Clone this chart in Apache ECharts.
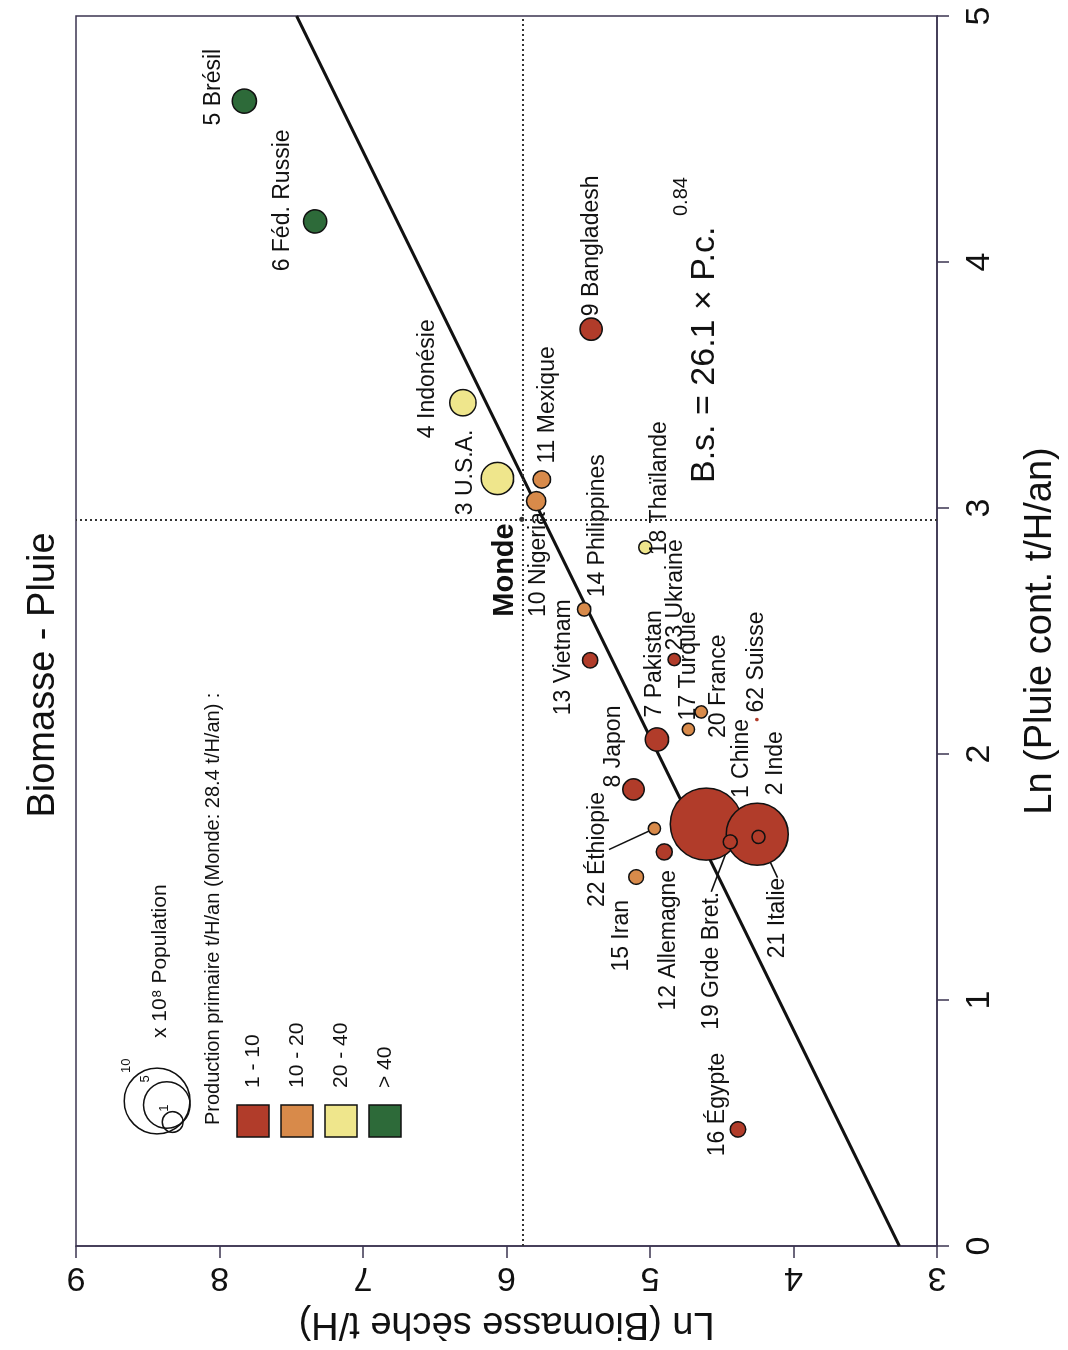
<!DOCTYPE html>
<html>
<head>
<meta charset="utf-8">
<script src="https://cdn.jsdelivr.net/npm/echarts@6/dist/echarts.min.js"></script>
<style>
  html, body { margin: 0; padding: 0; background: #fff; overflow: hidden; width: 1068px; height: 1350px; }
  /* The chart is laid out landscape and turned a quarter turn so it reads up the page */
  #chart { position: absolute; left: 0; top: 0; width: 1350px; height: 1068px;
           transform-origin: 0 0; transform: translate(0, 1350px) rotate(-90deg); }
</style>
</head>
<body>
<div id="chart"></div>
<script>
// ---- Data: ln of continental rainfall vs ln of dry biomass per inhabitant ----
const countries = ['1 Chine', '2 Inde', '3 U.S.A.', '4 Indonésie', '5 Brésil', '6 Féd. Russie',
  '7 Pakistan', '9 Bangladesh', '8 Japon', '10 Nigeria', '11 Mexique', '12 Allemagne',
  '13 Vietnam', '16 Égypte', '15 Iran', '14 Philippines', '19 Grde Bret.', '18 Thaïlande',
  '21 Italie', '22 Éthiopie', '20 France', '17 Turquie', '23 Ukraine', '62 Suisse'];
const lnPluie = [1.715, 1.674, 3.120, 3.428, 4.654, 4.165,
  2.059, 3.727, 1.856, 3.028, 3.116, 1.602,
  2.381, 0.474, 1.500, 2.588, 1.643, 2.840,
  1.663, 1.697, 2.171, 2.100, 2.384, 2.140];
const lnBiomasse = [4.608, 4.253, 6.063, 6.304, 7.827, 7.334,
  4.952, 5.410, 5.115, 5.793, 5.754, 4.901,
  5.417, 4.387, 5.096, 5.459, 4.441, 5.033,
  4.244, 4.969, 4.643, 4.732, 4.831, 4.255];
// population, in units of 10^8 inhabitants
const population = [12.0, 8.9, 2.4, 1.6, 1.35, 1.25,
  1.25, 1.15, 1.05, 0.85, 0.7, 0.6,
  0.55, 0.55, 0.5, 0.42, 0.45, 0.4,
  0.4, 0.35, 0.35, 0.35, 0.35, 0.03];
// primary production class: 0 = 1-10, 1 = 10-20, 2 = 20-40, 3 = >40 t/H/an
const productionClass = [0, 0, 2, 2, 3, 3,
  0, 0, 0, 1, 1, 0,
  0, 0, 1, 1, 0, 2,
  0, 1, 1, 1, 0, 0];

const mondeName = 'Monde';
const mondePoint = [2.954, 5.894];

// fitted relation B.s. = 26.1 x P.c.^0.84  (straight line in ln-ln space)
const fitCoef = 26.1;
const fitExp = 0.84;

const xTicks = [0, 5, 1];   // min, max, step of ln(rain)
const yTicks = [3, 9, 1];   // min, max, step of ln(biomass)
const classLabels = ['1 - 10', '10 - 20', '20 - 40', '> 40'];
const sizeLegend = [10, 5, 1];

// ---- Styling ----
const FONT = '"Liberation Sans", Arial, Helvetica, sans-serif';
const INK = '#111111';
const AXIS = '#3b3550';
const classColors = ['#b13c2a', '#d88a4a', '#efe68c', '#2d6a39'];
const SIZE_K = 20.8;          // bubble diameter (px) per sqrt(10^8 inhabitants)

// label placement around each bubble (px, landscape frame)
const labelPlacement = {
  '5 Brésil':       { align: 'center', dx: 14,  dy: -31 },
  '6 Féd. Russie':  { align: 'center', dx: 21,  dy: -32 },
  '9 Bangladesh':   { align: 'left',   dx: 13,  dy: 0 },
  '4 Indonésie':    { align: 'center', dx: 24,  dy: -35 },
  '3 U.S.A.':       { align: 'center', dx: 6,   dy: -32 },
  '11 Mexique':     { align: 'left',   dx: 16,  dy: 6 },
  '10 Nigeria':     { align: 'right',  dx: -11, dy: 2 },
  '18 Thaïlande':   { align: 'left',   dx: -8,  dy: 14 },
  '14 Philippines': { align: 'left',   dx: 12,  dy: 14 },
  '13 Vietnam':     { align: 'center', dx: 3,   dy: -27 },
  '7 Pakistan':     { align: 'left',   dx: 22,  dy: -2 },
  '23 Ukraine':     { align: 'left',   dx: 9,   dy: 1 },
  '17 Turquie':     { align: 'left',   dx: 9,   dy: 0 },
  '20 France':      { align: 'left',   dx: -26, dy: 17 },
  '62 Suisse':      { align: 'left',   dx: 7,   dy: 0 },
  '1 Chine':        { align: 'left',   dx: 26,  dy: 35 },
  '2 Inde':         { align: 'left',   dx: 39,  dy: 18 },
  '8 Japon':        { align: 'left',   dx: 2,   dy: -20 },
  '12 Allemagne':   { align: 'right',  dx: -18, dy: 4 },
  '15 Iran':        { align: 'right',  dx: -23, dy: -15 },
  '16 Égypte':      { align: 'center', dx: 25,  dy: -20 },
  '22 Éthiopie':    { align: 'center', dx: -21, dy: -57, leader: true },
  '19 Grde Bret.':  { align: 'center', dx: -119, dy: -19, leader: true },
  '21 Italie':      { align: 'center', dx: -81, dy: 19, leader: true }
};

const scatterData = countries.map((name, i) => {
  const d = SIZE_K * Math.sqrt(population[i]);
  const p = labelPlacement[name];
  const tiny = d < 6;
  return {
    name: name,
    value: [lnPluie[i], lnBiomasse[i]],
    symbolSize: d,
    itemStyle: {
      color: classColors[productionClass[i]],
      opacity: 1,
      borderColor: tiny ? 'rgba(0,0,0,0)' : '#111',
      borderWidth: tiny ? 0 : 1.5
    },
    label: { show: true, position: 'inside', align: p.align, verticalAlign: 'middle' },
    labelLine: { show: !!p.leader, lineStyle: { color: '#111', width: 1.5 } }
  };
});

const fitLine = [xTicks[0], xTicks[1]].map(x => [x, Math.log(fitCoef) + fitExp * x]);

// size-key circles: centre shift of each ring from the shared anchor (px, landscape frame)
const legendAnchor = { u: 249, v: 190 };
const ringShift = [[0, 0], [-4, 0], [-21, -7]];
const legendGraphics = [];
function txt(x, y, text, size, align, extra) {
  return Object.assign({ type: 'text', x: x, y: y,
    style: Object.assign({ text: text, fontSize: size, fontFamily: FONT, fill: INK,
      align: align, verticalAlign: 'middle', textAlign: align, textVerticalAlign: 'middle' }, extra || {}) });
}
sizeLegend.forEach((s, k) => {
  const r = SIZE_K * Math.sqrt(s) / 2;
  const cx = legendAnchor.u + ringShift[k][0];
  const cy = legendAnchor.v - r + ringShift[k][1];
  legendGraphics.push({ type: 'circle', shape: { cx: cx, cy: cy, r: r },
    style: { fill: 'none', stroke: '#111', lineWidth: 1.5 } });
  legendGraphics.push(txt(cx + r * 0.95 + 4, cy - r + 2, String(s), 13, 'center'));
});
legendGraphics.push(txt(312, 160, 'x 10⁸ Population', 21, 'left'));
legendGraphics.push(txt(225, 213, 'Production primaire t/H/an (Monde: 28.4 t/H/an) :', 20, 'left'));
classLabels.forEach((lab, k) => {
  const vc = 253 + k * 44;
  legendGraphics.push({ type: 'rect', shape: { x: 213, y: vc - 16, width: 32, height: 32 },
    style: { fill: classColors[k], stroke: '#111', lineWidth: 1.5 } });
  legendGraphics.push(txt(262, vc, lab, 21, 'left'));
});
// fitted equation
legendGraphics.push(txt(867, 705, 'B.s. = ' + fitCoef + ' × P.c.', 34, 'left'));
legendGraphics.push(txt(1134, 681, String(fitExp), 20, 'left'));

const chart = echarts.init(document.getElementById('chart'), null, { renderer: 'canvas' });

chart.setOption({
  backgroundColor: '#ffffff',
  animation: false,
  title: {
    text: 'Biomasse - Pluie', left: 'center', top: 20,
    textStyle: { fontSize: 38, fontWeight: 'normal', fontFamily: FONT, color: INK }
  },
  grid: { left: 104, right: 16, top: 76, bottom: 131, show: true,
          borderColor: AXIS, borderWidth: 1.5, backgroundColor: 'rgba(0,0,0,0)' },
  xAxis: {
    type: 'value', min: xTicks[0], max: xTicks[1], interval: xTicks[2],
    name: 'Ln (Pluie cont. t/H/an)', nameLocation: 'middle', nameGap: 85,
    nameTextStyle: { fontSize: 38, fontFamily: FONT, color: INK },
    axisLine: { show: true, onZero: false, lineStyle: { color: AXIS, width: 1.5 } },
    axisTick: { show: true, inside: false, length: 12, lineStyle: { color: AXIS, width: 1.5 } },
    axisLabel: { fontSize: 34, fontFamily: FONT, color: INK, margin: 26 },
    splitLine: { show: false }
  },
  yAxis: {
    type: 'value', min: yTicks[0], max: yTicks[1], interval: yTicks[2],
    name: 'Ln (Biomasse sèche t/H)', nameLocation: 'middle', nameGap: 58,
    nameTextStyle: { fontSize: 38, fontFamily: FONT, color: INK },
    axisLine: { show: true, onZero: false, lineStyle: { color: AXIS, width: 1.5 } },
    axisTick: { show: true, inside: false, length: 12, lineStyle: { color: AXIS, width: 1.5 } },
    axisLabel: { fontSize: 34, fontFamily: FONT, color: INK, margin: 14, rotate: 90 },
    splitLine: { show: false }
  },
  graphic: { elements: legendGraphics },
  series: [
    {
      type: 'line', name: 'ajustement', data: fitLine, symbol: 'none', z: 2,
      lineStyle: { color: '#111', width: 3 }, silent: true
    },
    {
      type: 'scatter', name: 'pays', data: scatterData, z: 4,
      label: { color: INK, fontSize: 23, fontFamily: FONT, formatter: '{b}',
               textBorderWidth: 0, textBorderColor: 'transparent' },
      labelLine: { show: false },
      labelLayout: function (params) {
        const p = labelPlacement[countries[params.dataIndex]];
        return p ? { dx: p.dx, dy: p.dy } : {};
      }
    },
    {
      type: 'scatter', name: mondeName, z: 5,
      data: [{ name: mondeName, value: mondePoint }],
      symbolSize: 5, itemStyle: { color: '#333', opacity: 1 },
      label: { show: true, position: 'inside', align: 'right', verticalAlign: 'middle',
               formatter: '{b}', fontSize: 29, fontWeight: 'bold', fontFamily: FONT, color: INK,
               textBorderWidth: 0 },
      labelLayout: { dx: -4, dy: -17 },
      markLine: {
        silent: true, symbol: ['none', 'none'], label: { show: false },
        lineStyle: { color: '#333', width: 2, type: [2, 3] },
        data: [{ xAxis: mondePoint[0] }, { yAxis: mondePoint[1] }]
      }
    }
  ]
});
</script>
</body>
</html>
